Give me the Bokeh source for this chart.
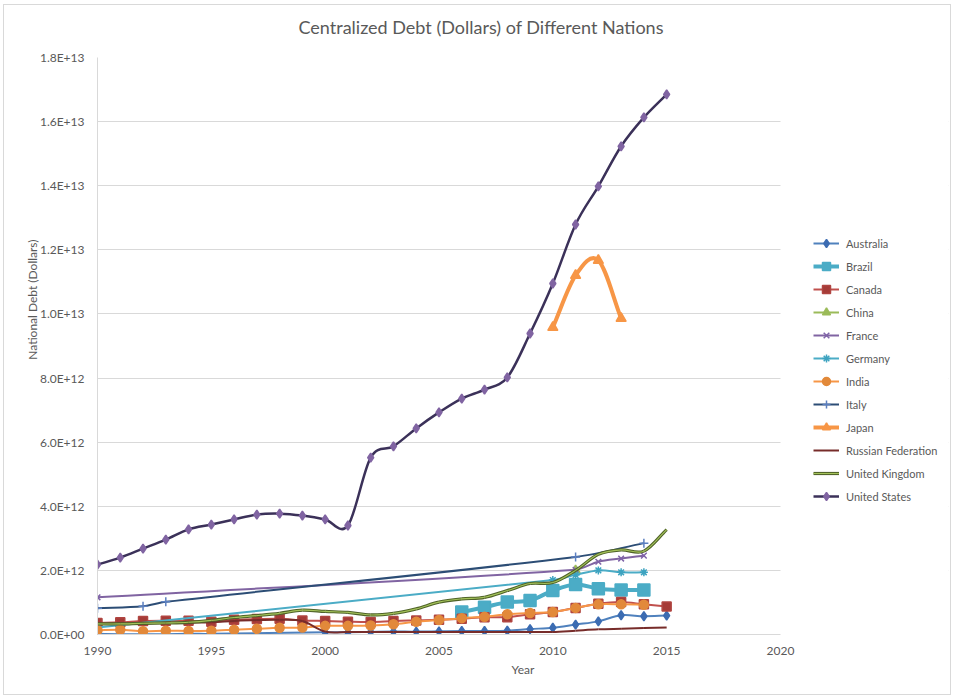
from bokeh.plotting import figure
from bokeh.models import Range1d, FixedTicker, Legend, LegendItem, Title, BoxAnnotation
from bokeh.embed import file_html
from bokeh.resources import INLINE

# National debt, trillions of US dollars
aus_years = [1990, 1991, 1992, 1993, 1994, 1995, 2000, 2001, 2002, 2003, 2004, 2005,
             2006, 2007, 2008, 2009, 2010, 2011, 2012, 2013, 2014, 2015]
aus_debt = [0.02, 0.01, 0.01, 0.01, 0.02, 0.02, 0.07, 0.07, 0.08, 0.09, 0.09, 0.10,
            0.11, 0.11, 0.12, 0.17, 0.21, 0.31, 0.41, 0.60, 0.57, 0.59]

bra_years = [2006, 2007, 2008, 2009, 2010, 2011, 2012, 2013, 2014]
bra_debt = [0.70, 0.85, 1.01, 1.06, 1.37, 1.56, 1.43, 1.39, 1.39]

can_years = list(range(1990, 2016))
can_debt = [0.36, 0.38, 0.42, 0.43, 0.43, 0.40, 0.46, 0.48, 0.49, 0.44, 0.42, 0.40, 0.39,
            0.42, 0.44, 0.46, 0.49, 0.54, 0.54, 0.63, 0.70, 0.83, 0.96, 1.01, 0.94, 0.87]

chn_years = [2011]
chn_debt = [2.00]

fra_years = [1990, 2011, 2012, 2013, 2014]
fra_debt = [1.16, 2.02, 2.27, 2.37, 2.46]

deu_years = [1990, 2010, 2011, 2012, 2013, 2014]
deu_debt = [0.22, 1.70, 1.86, 2.00, 1.94, 1.94]

ind_years = list(range(1990, 2015))
ind_debt = [0.13, 0.15, 0.10, 0.12, 0.11, 0.12, 0.15, 0.18, 0.21, 0.22, 0.27, 0.27, 0.28,
            0.32, 0.40, 0.45, 0.51, 0.55, 0.63, 0.67, 0.70, 0.83, 0.94, 0.94, 0.93]

ita_years = [1990, 1992, 1993, 2011, 2014]
ita_debt = [0.82, 0.88, 1.02, 2.42, 2.85]

jpn_years = [2010, 2011, 2012, 2013]
jpn_debt = [9.58, 11.20, 11.67, 9.86]

rus_years = list(range(1990, 2016))
rus_debt = [0.33, 0.34, 0.35, 0.36, 0.37, 0.38, 0.42, 0.45, 0.46, 0.42, 0.09, 0.08, 0.08,
            0.08, 0.08, 0.08, 0.08, 0.08, 0.08, 0.08, 0.08, 0.12, 0.16, 0.18, 0.20, 0.22]

gbr_years = list(range(1990, 2016))
gbr_debt = [0.33, 0.33, 0.35, 0.36, 0.38, 0.44, 0.53, 0.59, 0.66, 0.76, 0.72, 0.69, 0.61,
            0.66, 0.80, 1.01, 1.11, 1.16, 1.37, 1.59, 1.62, 2.00, 2.50, 2.64, 2.60, 3.27]

usa_years = list(range(1990, 2016))
usa_debt = [2.18, 2.40, 2.68, 2.96, 3.28, 3.43, 3.59, 3.74, 3.77, 3.71, 3.59, 3.40, 5.52,
            5.87, 6.43, 6.93, 7.36, 7.64, 8.02, 9.39, 10.95, 12.79, 13.98, 15.23, 16.13, 16.85]

x_ticks = [1990, 1995, 2000, 2005, 2010, 2015, 2020]
y_ticks = [0, 2, 4, 6, 8, 10, 12, 14, 16, 18]
y_tick_labels = ["0.0E+00", "2.0E+12", "4.0E+12", "6.0E+12", "8.0E+12", "1.0E+13",
                 "1.2E+13", "1.4E+13", "1.6E+13", "1.8E+13"]

FONT = "Lato"
TEXT = "#595959"
GRID = "#d9d9d9"

# the frame runs on past 2020 so the legend can sit inside it, right of the plot area
X_END = 2020
p = figure(width=948, height=691, x_range=Range1d(1990, 2027.38), y_range=Range1d(0, 18),
           output_backend="svg", toolbar_location=None, title=None,
           min_border_left=93, min_border_right=4, min_border_top=52, min_border_bottom=62)
p.styles = {"border": "1px solid #d9d9d9", "margin-left": "3px", "margin-top": "4px"}
p.outline_line_color = None
p.background_fill_color = "white"
p.border_fill_color = "white"

p.xgrid.grid_line_color = None
p.ygrid.grid_line_color = GRID
p.ygrid.ticker = FixedTicker(ticks=y_ticks)

p.xaxis.ticker = FixedTicker(ticks=x_ticks)
p.xaxis.bounds = (1990, X_END)
p.yaxis.ticker = FixedTicker(ticks=y_ticks)
p.yaxis.major_label_overrides = {t: s for t, s in zip(y_ticks, y_tick_labels)}
for ax in (p.xaxis, p.yaxis):
    ax.axis_line_color = GRID
    ax.major_tick_line_color = None
    ax.minor_tick_line_color = None
    ax.major_label_text_font = FONT
    ax.major_label_text_font_size = "12px"
    ax.major_label_text_color = TEXT
p.xaxis.major_label_standoff = 6
p.yaxis.major_label_standoff = 7
p.xaxis.axis_label = "Year"
p.xaxis.axis_label_text_font = FONT
p.xaxis.axis_label_text_font_size = "12px"
p.xaxis.axis_label_text_font_style = "normal"
p.xaxis.axis_label_text_color = TEXT
p.xaxis.axis_label_standoff = 4

# blank out the gridlines to the right of the plot area (legend zone)
p.add_layout(BoxAnnotation(left=X_END, fill_color="white", fill_alpha=1.0,
                           line_color=None, level="underlay"))

# vertical axis title, placed in the left panel next to the tick labels
p.add_layout(Title(text="National Debt (Dollars)", align="right", offset=182,
                   text_font=FONT, text_font_size="12px", text_font_style="normal",
                   text_color=TEXT, standoff=-6), "left")

# chart title: a spacer line first, then the title above it
p.add_layout(Title(text=" ", text_font_size="12px", standoff=4), "above")
p.add_layout(Title(text="Centralized Debt (Dollars) of Different Nations", align="left",
                   offset=201, text_font=FONT, text_font_size="18px",
                   text_font_style="normal", text_color=TEXT, standoff=0), "above")


def smooth_segments(xs, ys):
    """Cubic Bezier pieces through the points (Hermite tangents from neighbours)."""
    n = len(xs)
    slopes = []
    for i in range(n):
        a = max(i - 1, 0)
        b = min(i + 1, n - 1)
        slopes.append((ys[b] - ys[a]) / (xs[b] - xs[a]))
    seg = dict(x0=[], y0=[], x1=[], y1=[], cx0=[], cy0=[], cx1=[], cy1=[])
    for i in range(n - 1):
        h = xs[i + 1] - xs[i]
        seg["x0"].append(xs[i]); seg["y0"].append(ys[i])
        seg["x1"].append(xs[i + 1]); seg["y1"].append(ys[i + 1])
        seg["cx0"].append(xs[i] + h / 3); seg["cy0"].append(ys[i] + slopes[i] * h / 3)
        seg["cx1"].append(xs[i + 1] - h / 3); seg["cy1"].append(ys[i + 1] - slopes[i + 1] * h / 3)
    return seg


series = [
    ("Australia", aus_years, aus_debt, [("#4f81bd", 2.0)], "diamond", 9, "#3c6cb2", "#3c6cb2"),
    ("Brazil", bra_years, bra_debt, [("#4bacc6", 4.0)], "square", 12, "#4bacc6", "#4bacc6"),
    ("Canada", can_years, can_debt, [("#c0504d", 2.0)], "square", 9, "#a53b37", "#b04541"),
    ("China", chn_years, chn_debt, [("#9bbb59", 2.0)], "triangle", 9, "#9bbb59", "#9bbb59"),
    ("France", fra_years, fra_debt, [("#8064a2", 2.0)], "x", 8, None, "#7f63a8"),
    ("Germany", deu_years, deu_debt, [("#4bacc6", 2.0)], "asterisk", 8, None, "#3da3c0"),
    ("India", ind_years, ind_debt, [("#f79646", 2.0)], "circle", 9, "#e2893a", "#e2893a"),
    ("Italy", ita_years, ita_debt, [("#2c4d75", 2.0)], "cross", 9, None, "#5b7fc0"),
    ("Japan", jpn_years, jpn_debt, [("#f79646", 4.0)], "triangle", 10, "#f79646", "#f79646"),
    ("Russian Federation", rus_years, rus_debt, [("#772c2a", 2.0)], None, 0, None, None),
    ("United Kingdom", gbr_years, gbr_debt, [("#4f6228", 3.2), ("#a4c35a", 1.1)], None, 0, None, None),
    ("United States", usa_years, usa_debt, [("#3b3159", 2.5)], "diamond", 9, "#8064a2", "#8064a2"),
]

items = []
for name, xs, ys, strokes, marker, size, fill, mline in series:
    renderers = []
    for color, width in strokes:
        if len(xs) > 1:
            p.bezier(**smooth_segments(xs, ys), line_color=color, line_width=width)
        # legend swatch for the series line
        renderers.append(p.line(xs, ys, line_color=color, line_width=width, visible=False))
    if marker:
        renderers.append(p.scatter(xs, ys, marker=marker, size=size,
                                   fill_color=fill, line_color=mline, line_width=1.5))
    items.append(LegendItem(label=name, renderers=renderers))

legend = Legend(items=items, location=(716, 128), orientation="vertical",
                glyph_width=26, glyph_height=20, label_height=20, spacing=3,
                label_standoff=7, padding=0, margin=0,
                border_line_color=None, background_fill_alpha=0,
                label_text_font=FONT, label_text_font_size="11px", label_text_color=TEXT)
p.add_layout(legend, "center")

open("out.html", "w").write(file_html(p, INLINE))
